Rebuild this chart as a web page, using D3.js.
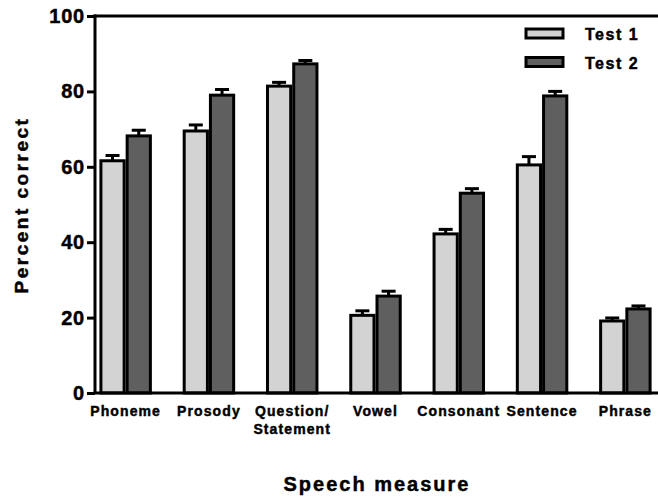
<!DOCTYPE html>
<html>
<head>
<meta charset="utf-8">
<script src="https://d3js.org/d3.v7.min.js"></script>
<style>
  body { margin: 0; background: #fff; }
  text { font-family: "Liberation Sans", Arial, sans-serif; font-weight: bold; stroke: black; stroke-width: 0.45px; }
</style>
</head>
<body>
<div id="chart"></div>
<script>
// categories and series
var categories = ["Phoneme", "Prosody", "Question/Statement", "Vowel", "Consonant", "Sentence", "Phrase"];
var seriesNames = ["Test 1", "Test 2"];
var test1 = [61.6, 69.5, 81.4, 20.6, 42.2, 60.5, 19.1];
var test1Err = [1.4, 1.6, 1.0, 1.2, 1.2, 2.2, 0.8];
var test2 = [68.2, 79.0, 87.3, 25.7, 53.0, 78.8, 22.3];
var test2Err = [1.5, 1.5, 0.9, 1.3, 1.2, 1.2, 0.8];
var yTicks = [0, 20, 40, 60, 80, 100];
var colors = ["#d3d3d3", "#5f5f5f"];

var width = 658, height = 501;
var svg = d3.select("#chart").append("svg")
  .attr("width", width)
  .attr("height", height);

var x = d3.scaleBand()
  .domain(categories)
  .range([84, 667])
  .paddingInner(0.37)
  .paddingOuter(0.185);

var xSub = d3.scaleBand()
  .domain(seriesNames)
  .range([0, x.bandwidth()]);

var y = d3.scaleLinear()
  .domain([0, 100])
  .range([393, 16]);

var data = [];
categories.forEach(function(c, i) {
  data.push({cat: c, s: 0, v: test1[i], e: test1Err[i]});
  data.push({cat: c, s: 1, v: test2[i], e: test2Err[i]});
});

// bars
var bw = xSub.bandwidth();
svg.append("g").selectAll("rect")
  .data(data)
  .enter().append("rect")
    .attr("x", function(d){ return x(d.cat) + xSub(seriesNames[d.s]) + 1.5; })
    .attr("y", function(d){ return y(d.v); })
    .attr("width", bw - 3)
    .attr("height", function(d){ return y(0) - y(d.v); })
    .attr("fill", function(d){ return colors[d.s]; })
    .attr("stroke", "black")
    .attr("stroke-width", 3);

// error bars (upper only)
var eb = svg.append("g").selectAll("g")
  .data(data)
  .enter().append("g");
eb.append("line")
  .attr("x1", function(d){ return x(d.cat) + xSub(seriesNames[d.s]) + bw / 2; })
  .attr("x2", function(d){ return x(d.cat) + xSub(seriesNames[d.s]) + bw / 2; })
  .attr("y1", function(d){ return y(d.v); })
  .attr("y2", function(d){ return y(d.v + d.e); })
  .attr("stroke", "black")
  .attr("stroke-width", 3);
eb.append("line")
  .attr("x1", function(d){ return x(d.cat) + xSub(seriesNames[d.s]) + bw / 2 - 7; })
  .attr("x2", function(d){ return x(d.cat) + xSub(seriesNames[d.s]) + bw / 2 + 7; })
  .attr("y1", function(d){ return y(d.v + d.e); })
  .attr("y2", function(d){ return y(d.v + d.e); })
  .attr("stroke", "black")
  .attr("stroke-width", 3);

// y axis
var yAxis = svg.append("g")
  .attr("transform", "translate(95,0)")
  .call(d3.axisLeft(y).tickValues(yTicks).tickSize(8).tickSizeOuter(0).tickPadding(2));
yAxis.selectAll("path, line").attr("stroke", "black").attr("stroke-width", 3);
yAxis.select(".domain").attr("d", "M0," + y(0) + "V" + (y(100) - 1.5));
yAxis.selectAll("text")
  .attr("font-size", 20)
  .attr("letter-spacing", 0.8)
  .attr("fill", "black");

// baseline and top line
svg.append("line")
  .attr("x1", 93.5).attr("x2", width)
  .attr("y1", y(0)).attr("y2", y(0))
  .attr("stroke", "black").attr("stroke-width", 3);
svg.append("line")
  .attr("x1", 93.5).attr("x2", width)
  .attr("y1", y(100)).attr("y2", y(100))
  .attr("stroke", "black").attr("stroke-width", 3);

// category labels
var catLabels = svg.append("g").selectAll("text")
  .data(categories)
  .enter().append("text")
    .attr("x", function(d){ return x(d) + x.bandwidth() / 2; })
    .attr("y", 416)
    .attr("text-anchor", "middle")
    .attr("font-size", 14)
    .attr("letter-spacing", 1.1);
catLabels.each(function(d) {
  var parts = d.split("/");
  var t = d3.select(this);
  if (parts.length > 1) {
    t.append("tspan").attr("x", t.attr("x")).text(parts[0] + "/");
    t.append("tspan").attr("x", t.attr("x")).attr("dy", 18).text(parts[1]);
  } else {
    t.text(d);
  }
});

// axis titles
svg.append("text")
  .attr("x", 377)
  .attr("y", 491)
  .attr("text-anchor", "middle")
  .attr("font-size", 20)
  .attr("letter-spacing", 2)
  .text("Speech measure");

svg.append("text")
  .attr("transform", "translate(28,205) rotate(-90)")
  .attr("text-anchor", "middle")
  .attr("font-size", 19)
  .attr("letter-spacing", 2.5)
  .text("Percent correct");

// legend
var legend = svg.append("g").selectAll("g")
  .data(seriesNames)
  .enter().append("g")
    .attr("transform", function(d, i){ return "translate(526," + (29 + i * 28.5) + ")"; });
legend.append("rect")
  .attr("width", 37).attr("height", 9)
  .attr("fill", function(d, i){ return colors[i]; })
  .attr("stroke", "black").attr("stroke-width", 3);
legend.append("text")
  .attr("x", 59).attr("y", 11)
  .attr("font-size", 16)
  .attr("letter-spacing", 1.5)
  .text(function(d){ return d; });
</script>
</body>
</html>
